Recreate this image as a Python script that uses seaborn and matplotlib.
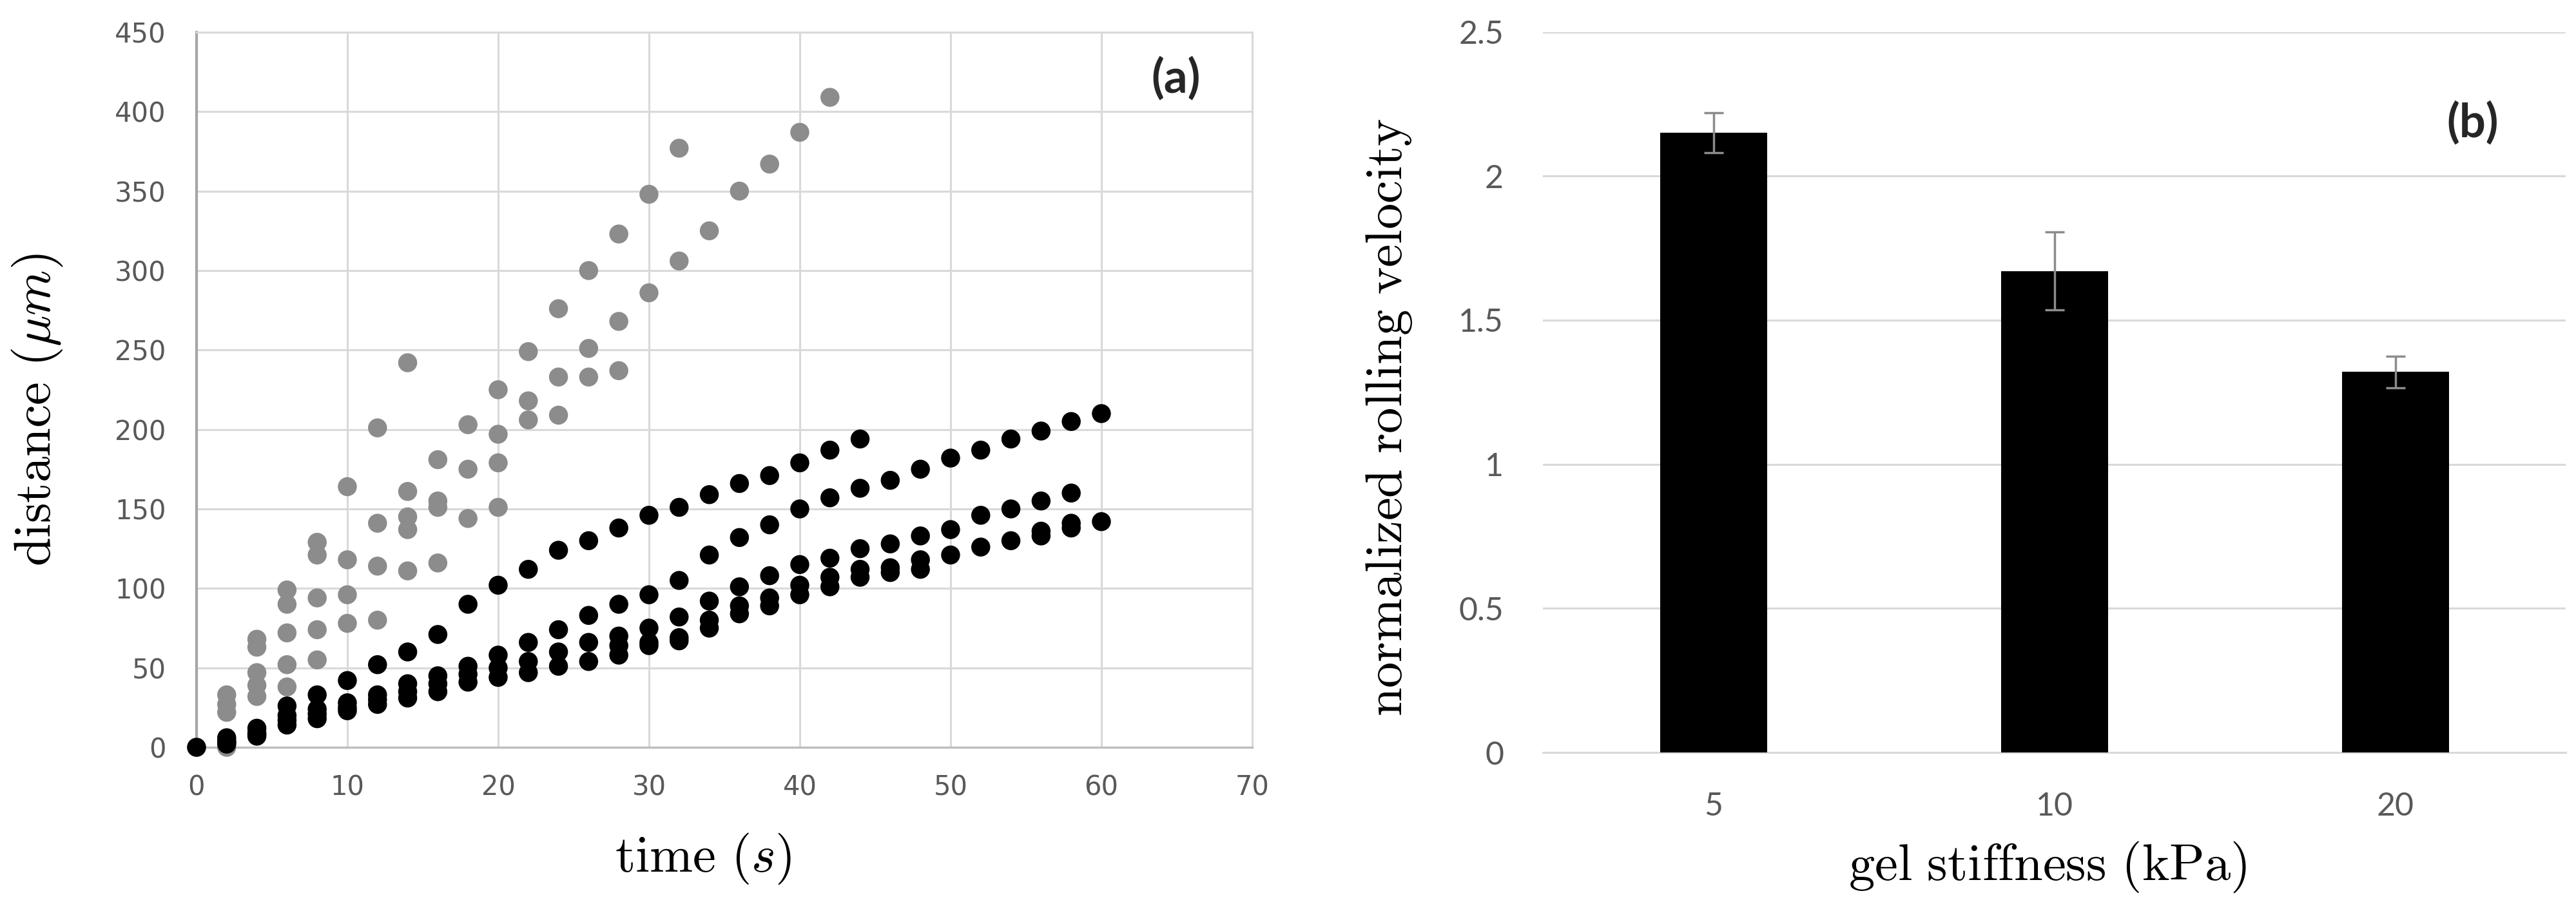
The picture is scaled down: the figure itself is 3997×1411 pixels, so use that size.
import pandas as pd
import numpy as np
import matplotlib
matplotlib.use("Agg")
import matplotlib.pyplot as plt
import seaborn as sns

# (a) rolling distance vs time (values in um)
gray_times = [0, 2, 4, 6, 8, 10, 12, 14, 16, 18, 20, 22, 24, 26, 28, 30, 32, 34, 36, 38, 40, 42]
gray_dists = [
    [0],
    [33, 27, 22, 0],
    [68, 63, 47, 39, 32],
    [99, 90, 72, 52, 38],
    [129, 121, 94, 74, 55],
    [164, 118, 96, 78],
    [201, 141, 114, 80],
    [242, 161, 145, 137, 111],
    [181, 155, 151, 116],
    [203, 175, 144],
    [225, 197, 179, 151],
    [249, 218, 206],
    [276, 233, 209],
    [300, 251, 233],
    [323, 268, 237],
    [348, 286],
    [377, 306],
    [325],
    [350],
    [367],
    [387],
    [409],
]

black_times = [0, 2, 4, 6, 8, 10, 12, 14, 16, 18, 20, 22, 24, 26, 28, 30,
               32, 34, 36, 38, 40, 42, 44, 46, 48, 50, 52, 54, 56, 58, 60]
black_dists = [
    [0],
    [6, 4, 3, 2],
    [12, 9, 8, 7],
    [26, 20, 17, 14],
    [33, 24, 21, 18],
    [42, 28, 25, 23],
    [52, 33, 30, 27],
    [60, 40, 35, 31],
    [71, 45, 40, 35],
    [90, 51, 46, 41],
    [102, 58, 50, 44],
    [112, 66, 54, 47],
    [124, 74, 60, 51],
    [130, 83, 66, 54],
    [138, 90, 70, 64, 58],
    [146, 96, 75, 66, 64],
    [151, 105, 82, 69, 67],
    [159, 121, 92, 80, 75],
    [166, 132, 101, 89, 84],
    [171, 140, 108, 94, 89],
    [179, 150, 115, 102, 96],
    [187, 157, 119, 107, 101],
    [194, 163, 125, 112, 107],
    [168, 128, 113, 110],
    [175, 133, 118, 112],
    [182, 137, 121],
    [187, 146, 126],
    [194, 150, 130],
    [199, 155, 136, 133],
    [205, 160, 141, 138],
    [210, 142],
]

# (b) normalized rolling velocity vs gel stiffness
stiffness = ["5", "10", "20"]
velocity = [2.15, 1.67, 1.32]
velocity_err = [0.07, 0.135, 0.055]

rows = []
for grp, times, dists in [("gray", gray_times, gray_dists), ("black", black_times, black_dists)]:
    for t, ds in zip(times, dists):
        for d in ds:
            rows.append({"time": t, "distance": d, "group": grp})
df = pd.DataFrame(rows)
bars = pd.DataFrame({"stiffness": stiffness, "velocity": velocity})

sns.set_theme(style="white")
plt.rcParams["mathtext.fontset"] = "cm"
plt.rcParams["font.family"] = ["DejaVu Sans"]

tick_col = "#595959"
grid_col = "#d9d9d9"
label_kw = dict(fontsize=58, color="black")

fig = plt.figure(figsize=(39.97, 14.11), dpi=100)

# ---- panel (a)
ax1 = fig.add_axes([0.0763, 0.1779, 0.4098, 0.7867])
sns.scatterplot(data=df, x="time", y="distance", hue="group",
                palette={"gray": "#8c8c8c", "black": "black"},
                s=450, linewidth=0, legend=False, ax=ax1, clip_on=False, zorder=5)
ax1.set_xlim(0, 70)
ax1.set_ylim(0, 450)
ax1.set_xticks(range(0, 71, 10))
ax1.set_yticks(range(0, 451, 50))
ax1.grid(True, color=grid_col, lw=2.2)
ax1.set_axisbelow(True)
for side in ["top", "right"]:
    ax1.spines[side].set_color(grid_col)
    ax1.spines[side].set_linewidth(2.2)
ax1.spines["left"].set_color("#a6a6a6")
ax1.spines["left"].set_linewidth(3)
ax1.spines["bottom"].set_color("#bfbfbf")
ax1.spines["bottom"].set_linewidth(2.5)
ax1.tick_params(axis="both", length=0, labelsize=30, labelcolor=tick_col)
ax1.tick_params(axis="y", pad=34)
ax1.tick_params(axis="x", pad=30)
ax1.set_xlabel(r"$\mathrm{time}\ (s)$", **label_kw)
ax1.set_ylabel(r"$\mathrm{distance}\ (\mu m)$", **label_kw)
ax1.xaxis.label.set_va("center")
ax1.yaxis.label.set_va("center")
ax1.xaxis.set_label_coords(0.48, -0.156)
ax1.yaxis.set_label_coords(-0.151, 0.472)
ax1.text(0.928, 0.935, "(a)", transform=ax1.transAxes, ha="center", va="center",
         fontsize=52, fontweight="bold", family=["Lato", "DejaVu Sans"])

# ---- panel (b)
ax2 = fig.add_axes([0.599, 0.1722, 0.397, 0.7927])
sns.barplot(data=bars, x="stiffness", y="velocity", color="black", width=0.314,
            errorbar=None, ax=ax2, zorder=3, edgecolor="none")
ax2.errorbar(range(len(stiffness)), velocity, yerr=velocity_err, fmt="none",
             ecolor="#8c8c8c", elinewidth=2.5, capsize=11, capthick=2.5, zorder=4)
for p in ax2.patches:
    p.set_facecolor("black")
ax2.set_xlim(-0.5, 2.5)
ax2.set_ylim(0, 2.5)
ax2.set_yticks([0, 0.5, 1, 1.5, 2, 2.5])
ax2.set_yticklabels(["0", "0.5", "1", "1.5", "2", "2.5"])
ax2.yaxis.grid(True, color=grid_col, lw=2.2)
ax2.set_axisbelow(True)
for side in ["top", "right", "left"]:
    ax2.spines[side].set_visible(False)
ax2.spines["bottom"].set_color(grid_col)
ax2.spines["bottom"].set_linewidth(2.2)
ax2.tick_params(axis="both", length=0, labelsize=36, labelcolor=tick_col)
for lab in ax2.get_xticklabels() + ax2.get_yticklabels():
    lab.set_family(["Lato", "DejaVu Sans"])
ax2.tick_params(axis="y", pad=44)
ax2.tick_params(axis="x", pad=44)
ax2.set_xlabel(r"$\mathrm{gel\ stiffness\ (kPa)}$", **label_kw)
ax2.set_ylabel(r"$\mathrm{normalized\ rolling\ velocity}$", **label_kw)
ax2.xaxis.label.set_va("center")
ax2.yaxis.label.set_va("center")
ax2.xaxis.set_label_coords(0.4934, -0.159)
ax2.yaxis.set_label_coords(-0.151, 0.465)
ax2.text(0.9087, 0.8735, "(b)", transform=ax2.transAxes, ha="center", va="center",
         fontsize=52, fontweight="bold", family=["Lato", "DejaVu Sans"])

fig.savefig("out.png", dpi=100)
